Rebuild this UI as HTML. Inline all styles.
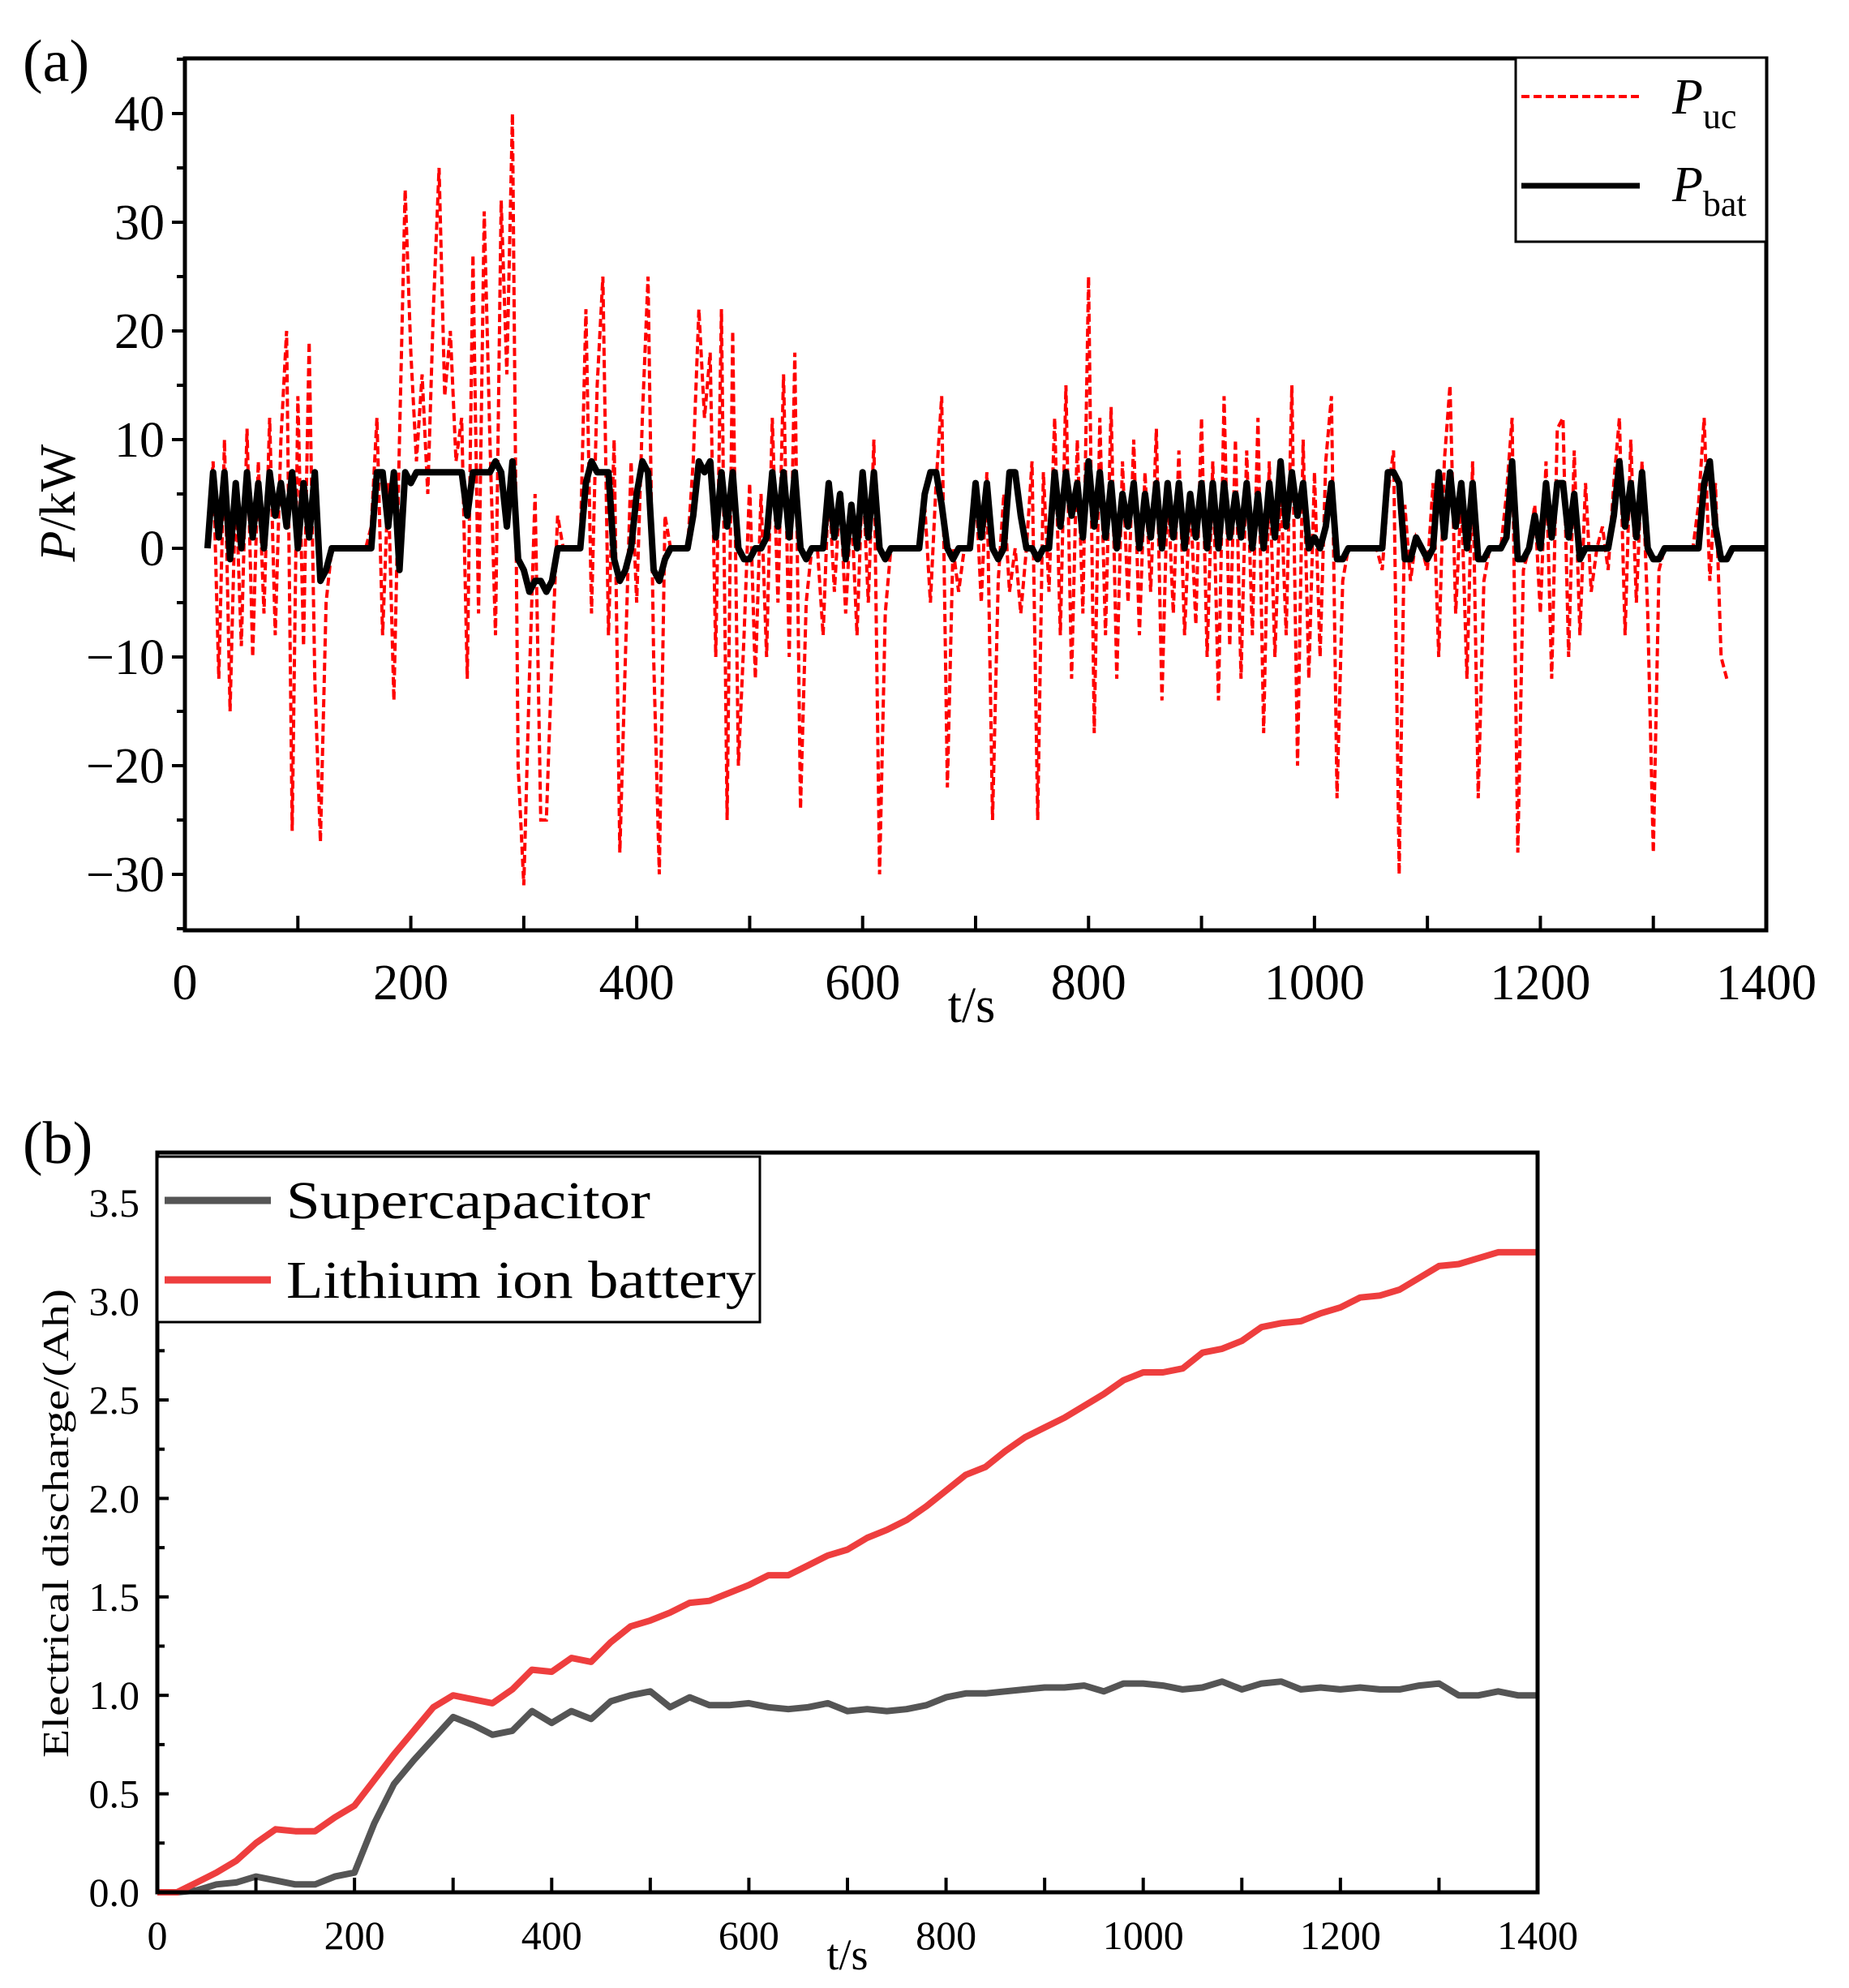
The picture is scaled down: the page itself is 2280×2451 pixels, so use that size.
<!DOCTYPE html>
<html><head><meta charset="utf-8"><style>
html,body{margin:0;padding:0;background:#fff}
svg{display:block}
text{font-family:"Liberation Serif",serif;fill:#000}
</style></head><body>
<svg id="s" width="2280" height="2451" viewBox="0 0 2280 2451" xmlns="http://www.w3.org/2000/svg">
<rect width="2280" height="2451" fill="#fff"/>
<g id="ga"></g>
<g id="gb"></g>
</svg>
<script>
const aXTicks=[0,200,400,600,800,1000,1200,1400];
const aYTicks=[-30,-20,-10,0,10,20,30,40];
const aYLabels=["\u221230","\u221220","\u221210","0","10","20","30","40"];
const pucStart=20, step=5;
const pucValues=[
0,8,-12,10,-15,6,-9,11,-10,8,
-6,12,-8,10,20,-26,14,-9,19,-12,
-27,-5,0,0,0,0,0,0,0,2,
12,-8,6,-14,10,33,18,8,16,5,
22,35,14,20,8,12,-12,27,-6,31,
10,-8,32,16,40,-20,-31,-12,5,-25,
-25,-10,3,0,0,0,0,22,-6,15,
25,-8,10,-28,-10,8,-5,12,25,-10,
-30,3,0,0,0,0,8,22,12,18,
-10,22,-25,20,-20,-8,6,-12,5,-10,
12,-5,16,-10,18,-24,-5,0,0,-8,
6,-4,5,-6,4,-8,7,-5,10,-30,
-6,0,0,0,0,0,0,4,-5,6,
14,-22,0,-4,0,0,6,-5,7,-25,
-3,5,-4,0,-6,0,8,-25,7,-4,
12,-8,15,-12,10,-6,25,-17,12,-8,
13,-12,8,-5,10,-8,7,-4,11,-14,
6,-6,9,-8,5,-7,12,-10,8,-14,
14,-9,10,-12,9,-8,12,-17,8,-10,
6,-8,15,-20,10,-12,7,-10,8,14,
-23,-3,0,0,0,0,0,0,-2,5,
9,-30,4,-3,1,0,-2,6,-10,8,
15,-6,5,-12,8,-23,-3,0,0,0,
5,12,-28,-2,0,4,-6,8,-12,11,
12,-10,9,-8,6,-4,0,2,-2,6,
12,-8,10,-5,8,-6,-28,-2,0,0,
0,0,0,0,4,12,-3,6,-10,-12];
const batValues=[
0,7,1,7,-1,6,0,7,1,6,
0,7,3,6,2,7,0,6,1,7,
-3,-2,0,0,0,0,0,0,0,0,
7,7,2,7,-2,7,6,7,7,7,
7,7,7,7,7,7,3,7,7,7,
7,8,7,2,8,-1,-2,-4,-3,-3,
-4,-3,0,0,0,0,0,6,8,7,
7,7,-1,-3,-2,0,5,8,7,-2,
-3,-1,0,0,0,0,3,8,7,8,
1,7,2,7,0,-1,-1,0,0,1,
7,2,7,1,7,0,-1,0,0,0,
6,1,5,-1,4,0,7,1,7,0,
-1,0,0,0,0,0,0,5,7,7,
4,0,-1,0,0,0,6,1,6,0,
-1,0,7,7,3,0,0,-1,0,0,
7,2,7,3,6,1,8,2,7,1,
6,0,5,2,6,0,5,1,6,0,
6,1,6,0,5,1,6,0,6,0,
6,1,5,1,6,0,5,0,6,1,
8,2,7,3,6,0,1,0,2,6,
-1,-1,0,0,0,0,0,0,0,7,
7,6,-1,-1,1,0,-1,0,7,1,
7,2,6,0,6,-1,-1,0,0,0,
1,8,-1,-1,0,3,0,6,1,6,
6,1,5,-1,0,0,0,0,0,3,
8,2,6,1,7,0,-1,-1,0,0,
0,0,0,0,0,6,8,2,-1,-1,
0,0,0,0,0,0,0];

const bXTicks=[0,200,400,600,800,1000,1200,1400];
const bYTicks=[0,0.5,1,1.5,2,2.5,3,3.5];
const bYLabels=["0.0","0.5","1.0","1.5","2.0","2.5","3.0","3.5"];
const bStep=20;
const batteryAh=[0,0,0.05,0.1,0.16,0.25,0.32,0.31,0.31,0.38,0.44,0.57,0.7,0.82,0.94,1.0,0.98,0.96,1.03,1.13,1.12,1.19,1.17,1.27,1.35,1.38,1.42,1.47,1.48,1.52,1.56,1.61,1.61,1.66,1.71,1.74,1.8,1.84,1.89,1.96,2.04,2.12,2.16,2.24,2.31,2.36,2.41,2.47,2.53,2.6,2.64,2.64,2.66,2.74,2.76,2.8,2.87,2.89,2.9,2.94,2.97,3.02,3.03,3.06,3.12,3.18,3.19,3.22,3.25,3.25,3.25];
const supercapAh=[0,0,0.01,0.04,0.05,0.08,0.06,0.04,0.04,0.08,0.1,0.35,0.55,0.67,0.78,0.89,0.85,0.8,0.82,0.92,0.86,0.92,0.88,0.97,1.0,1.02,0.94,0.99,0.95,0.95,0.96,0.94,0.93,0.94,0.96,0.92,0.93,0.92,0.93,0.95,0.99,1.01,1.01,1.02,1.03,1.04,1.04,1.05,1.02,1.06,1.06,1.05,1.03,1.04,1.07,1.03,1.06,1.07,1.03,1.04,1.03,1.04,1.03,1.03,1.05,1.06,1.0,1.0,1.02,1.0,1.0];

const NS="http://www.w3.org/2000/svg";
function mk(parent,tag,attrs,txt){const e=document.createElementNS(NS,tag);for(const k in attrs)e.setAttribute(k,attrs[k]);if(txt!==undefined)e.textContent=txt;parent.appendChild(e);return e;}

// ---- Chart A ----
const ga=document.getElementById('ga');
const aL=228,aR=2178,aT=72,aB=1147;
const ax=v=>aL+(v-0)/1400*(aR-aL);
const ay=v=>676-(v/10)*134;
function lineD(vals,t0,dt,fx,fy){return vals.map((v,i)=>(i?'L':'M')+fx(t0+i*dt).toFixed(1)+' '+fy(v).toFixed(1)).join(' ');}
let p=mk(ga,'path',{d:lineD(pucValues,pucStart,step,ax,ay),fill:'none',stroke:'#ff0000','stroke-width':4,'stroke-dasharray':'10 5'});


p=mk(ga,'path',{d:lineD(batValues,pucStart,step,ax,ay),fill:'none',stroke:'#000','stroke-width':8,'stroke-linejoin':'round'});


let f=mk(ga,'rect',{x:aL,y:aT,width:aR-aL,height:aB-aT,fill:'none',stroke:'#000','stroke-width':5});


for(let v=0;v<=1400;v+=100){const x=ax(v);let t=mk(ga,'line',{x1:x,x2:x,y1:aB,y2:aB-18,stroke:'#000','stroke-width':4});}
aXTicks.forEach(v=>{let t=mk(ga,'text',{x:ax(v),y:1232,'font-size':62,'text-anchor':'middle'},String(v));});
for(let v=-35;v<=45;v+=5){const y=ay(v);if(y<aT||y>aB)continue;const maj=v%10===0;let t=mk(ga,'line',{x1:aL,x2:aL-(maj?16:10),y1:y,y2:y,stroke:'#000','stroke-width':4});}
aYTicks.forEach((v,i)=>{let t=mk(ga,'text',{x:203,y:ay(v)+21,'font-size':62,'text-anchor':'end'},aYLabels[i]);});
let tt=mk(ga,'text',{x:1198,y:1260,'font-size':62,'text-anchor':'middle'},'t/s');
tt=mk(ga,'text',{transform:'translate(92,620) rotate(-90)','font-size':62,'text-anchor':'middle'});
mk(tt,'tspan',{'font-style':'italic'},'P');mk(tt,'tspan',{},'/kW');
tt=mk(ga,'text',{x:28,y:100,'font-size':74},'(a)');
// legend a
const lg=mk(ga,'g',{});
mk(lg,'rect',{x:1869,y:71,width:309,height:227,fill:'#fff',stroke:'#000','stroke-width':3});
mk(lg,'line',{x1:1876,x2:2022,y1:119,y2:119,stroke:'#ff0000','stroke-width':4,'stroke-dasharray':'10 5'});
mk(lg,'line',{x1:1876,x2:2022,y1:229,y2:229,stroke:'#000','stroke-width':7});
let le=mk(lg,'text',{x:2062,y:140,'font-size':62});
mk(le,'tspan',{'font-style':'italic'},'P');mk(le,'tspan',{dy:18,'font-size':44},'uc');
le=mk(lg,'text',{x:2062,y:248,'font-size':62});
mk(le,'tspan',{'font-style':'italic'},'P');mk(le,'tspan',{dy:18,'font-size':44},'bat');

// ---- Chart B ----
const gb=document.getElementById('gb');
const bL=194,bR=1896,bT=1421,bB=2333;
const bx=v=>bL+v/1400*(bR-bL);
const by=v=>bB-v/0.5*121.4;
p=mk(gb,'path',{d:lineD(supercapAh,0,bStep,bx,by),fill:'none',stroke:'#555','stroke-width':8,'stroke-linejoin':'round'});


p=mk(gb,'path',{d:lineD(batteryAh,0,bStep,bx,by),fill:'none',stroke:'#ee3e3e','stroke-width':8,'stroke-linejoin':'round'});


f=mk(gb,'rect',{x:bL,y:bT,width:bR-bL,height:bB-bT,fill:'none',stroke:'#000','stroke-width':5});


for(let v=100;v<1400;v+=100){const x=bx(v);let t=mk(gb,'line',{x1:x,x2:x,y1:bB,y2:bB-18,stroke:'#000','stroke-width':4});}
bXTicks.forEach(v=>{let t=mk(gb,'text',{x:bx(v),y:2403,'font-size':50,'text-anchor':'middle'},String(v));});
for(let v=0.25;v<3.75;v+=0.25){const y=by(v);const maj=Math.abs(v*2-Math.round(v*2))<1e-6;let t=mk(gb,'line',{x1:bL,x2:bL+(maj?14:9),y1:y,y2:y,stroke:'#000','stroke-width':4});}
bYTicks.forEach((v,i)=>{let t=mk(gb,'text',{x:172,y:by(v)+17,'font-size':50,'text-anchor':'end'},bYLabels[i]);});
tt=mk(gb,'text',{x:1045,y:2428,'font-size':54,'text-anchor':'middle'},'t/s');
tt=mk(gb,'text',{transform:'translate(84,1878) rotate(-90)','font-size':46,'text-anchor':'middle',textLength:578,lengthAdjust:'spacingAndGlyphs'},'Electrical discharge/(Ah)');
tt=mk(gb,'text',{x:28,y:1434,'font-size':74},'(b)');
const lb=mk(gb,'g',{});
mk(lb,'rect',{x:194,y:1426,width:743,height:204,fill:'#fff',stroke:'#000','stroke-width':3});
mk(lb,'line',{x1:203,x2:334,y1:1480,y2:1480,stroke:'#555','stroke-width':9});
mk(lb,'line',{x1:203,x2:334,y1:1578,y2:1578,stroke:'#ee3e3e','stroke-width':9});
le=mk(lb,'text',{x:353,y:1502,'font-size':66,textLength:449,lengthAdjust:'spacingAndGlyphs'},'Supercapacitor');
le=mk(lb,'text',{x:353,y:1600,'font-size':66,textLength:579,lengthAdjust:'spacingAndGlyphs'},'Lithium ion battery');
</script>
</body></html>
